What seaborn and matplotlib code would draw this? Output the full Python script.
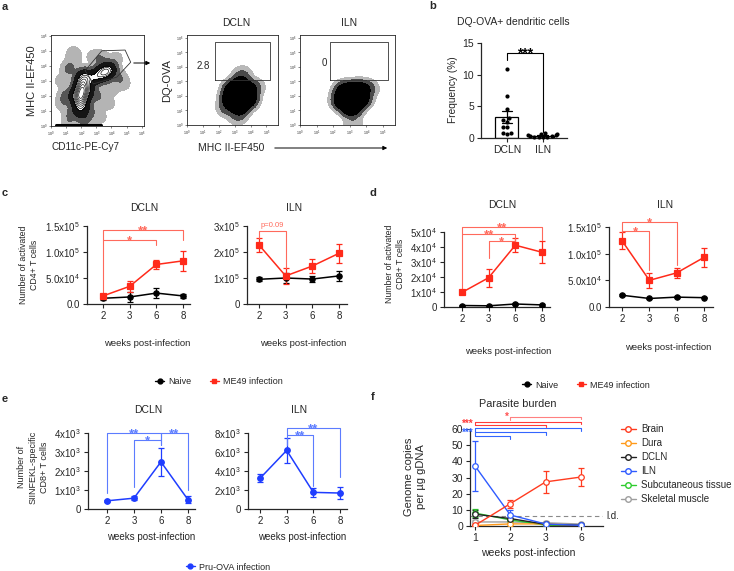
import numpy as np
import pandas as pd
import matplotlib
matplotlib.use("Agg")
import matplotlib.pyplot as plt
import seaborn as sns
from matplotlib.lines import Line2D

# ---------------- data ----------------
# panel a: representative flow events (log10 units) + gates
a1_x = [1.9, 1.95, 2.0, 2.0, 2.05, 2.1, 2.2, 1.7, 2.35, 2.6, 3.0, 3.4, 3.7, 3.9, 1.2, 1.0, 3.0, 4.5, 2.5, 1.5, 3.3, 2.2, 1.3,
        0.8, 0.7, 1.5, 2.8, 4.3, 4.8, 3.8, 3.2, 1.2, 4.0]
a1_y = [1.0, 1.4, 1.8, 2.2, 2.6, 3.0, 3.3, 2.0, 2.4, 3.1, 3.3, 3.5, 3.65, 3.8, 3.8, 2.0, 2.0, 3.2, 1.0, 4.5, 4.5, 0.5, 0.8,
        1.5, 3.0, 4.9, 4.6, 4.5, 2.8, 1.5, 0.6, 0.3, 2.5]
a1_w = [1, 2, 3, 3, 3, 2, 1.5, 1.5, 1.5, 1, 1.5, 2, 2, 1, 0.3, 0.3, 0.3, 0.2, 0.3, 0.15, 0.2, 0.4, 0.2,
        0.15, 0.1, 0.08, 0.1, 0.1, 0.1, 0.1, 0.12, 0.15, 0.15]
a1_floor_x = [0.3, 3.3]
a1_floor_y = [0.07, 0.07]
a1_gate_x = [2.26, 3.36, 4.9, 5.27, 4.35, 2.8, 2.26]
a1_gate_y = [3.68, 5.0, 5.05, 4.24, 3.25, 2.8, 3.68]

a2_x = [3.3, 2.8, 3.8, 3.3, 3.3, 2.9, 3.8, 3.4, 3.5, 2.5, 4.3, 3.2]
a2_y = [1.9, 1.8, 1.8, 1.3, 2.5, 2.4, 2.4, 3.0, 3.5, 1.2, 2.6, 0.6]
a2_w = [3, 2, 2, 2, 2, 1.5, 1.5, 0.6, 0.15, 0.3, 0.2, 0.2]
a2_gate_x = [1.77, 5.2]
a2_gate_y = [3.07, 5.74]
a2_freq = "2.8"

a3_x = [3.1, 2.6, 3.6, 3.1, 3.1, 2.7, 3.6, 4.1, 3.2]
a3_y = [1.75, 1.7, 1.8, 1.2, 2.3, 2.3, 2.4, 2.5, 0.1]
a3_w = [3, 2, 2, 2, 2, 1.5, 1.5, 0.3, 0.15]
a3_gate_x = [1.83, 5.3]
a3_gate_y = [3.07, 5.74]
a3_freq = "0"

# panel b
b_groups = ["DCLN", "ILN"]
b_dcln = [10.9, 6.6, 4.6, 3.1, 2.9, 2.5, 1.8, 1.8, 0.8, 0.8, 0.7]
b_iln = [0.1, 0.2, 0.3, 0.5, 0.8, 0.2, 0.4, 0.7, 0.1, 0.3, 0.6]

weeks = ["2", "3", "6", "8"]

# panel c (activated CD4+)
c_dcln_naive = [1.1e4, 1.35e4, 2.1e4, 1.55e4]
c_dcln_naive_sem = [0.4e4, 1.0e4, 0.9e4, 0.3e4]
c_dcln_me49 = [1.55e4, 3.4e4, 7.6e4, 8.3e4]
c_dcln_me49_sem = [0.3e4, 1.1e4, 0.9e4, 1.9e4]
c_iln_naive = [0.95e5, 1.0e5, 0.96e5, 1.08e5]
c_iln_naive_sem = [0.08e5, 0.2e5, 0.13e5, 0.2e5]
c_iln_me49 = [2.27e5, 1.08e5, 1.46e5, 1.95e5]
c_iln_me49_sem = [0.27e5, 0.3e5, 0.27e5, 0.37e5]

# panel d (activated CD8+)
d_dcln_naive = [0.1e4, 0.08e4, 0.2e4, 0.14e4]
d_dcln_naive_sem = [0.05e4, 0.04e4, 0.06e4, 0.05e4]
d_dcln_me49 = [0.97e4, 1.95e4, 4.12e4, 3.65e4]
d_dcln_me49_sem = [0.08e4, 0.6e4, 0.48e4, 0.72e4]
d_iln_naive = [2.2e4, 1.6e4, 1.85e4, 1.75e4]
d_iln_naive_sem = [0.15e4, 0.1e4, 0.15e4, 0.1e4]
d_iln_me49 = [1.24e5, 0.5e5, 0.64e5, 0.93e5]
d_iln_me49_sem = [0.16e5, 0.14e5, 0.1e5, 0.18e5]

# panel e (SIINFEKL-specific CD8+)
e_dcln = [430, 570, 2480, 490]
e_dcln_sem = [40, 100, 750, 200]
e_iln = [3230, 6170, 1750, 1680]
e_iln_sem = [420, 1300, 480, 650]

# panel f (parasite burden)
f_weeks = ["1", "2", "3", "6"]
f_tissues = ["Brain", "Dura", "DCLN", "ILN", "Subcutaneous tissue", "Skeletal muscle"]
f_brain = [0.4, 13.8, 27.3, 30.3]
f_brain_sem = [0.2, 2.5, 7.0, 5.3]
f_dura = [0.3, 1.3, 1.3, 0.2]
f_dura_sem = [0.1, 0.3, 0.5, 0.1]
f_dcln = [7.3, 4.6, 1.0, 0.5]
f_dcln_sem = [2.5, 2.0, 0.4, 0.2]
f_iln = [37.2, 6.8, 1.2, 0.4]
f_iln_sem = [15.6, 3.0, 0.4, 0.2]
f_subcut = [8.0, 3.8, 0.5, 0.2]
f_subcut_sem = [2.5, 0.8, 0.3, 0.1]
f_skeletal = [2.5, 2.5, 2.0, 1.2]
f_skeletal_sem = [1.5, 1.0, 1.2, 0.5]
f_ld = 6

RED = "#FF2A1A"
RED_LIGHT = "#FF6A5C"
BLUE = "#1F3DFF"
BLUE_LIGHT = "#5C7CFF"
F_COLORS = ["#FF3B1F", "#FF9A1A", "#222222", "#2F5BFF", "#2ECC2E", "#9E9E9E"]

sns.set_style("ticks")
plt.rcParams["font.family"] = ["Liberation Sans", "DejaVu Sans"]
plt.rcParams["mathtext.fontset"] = "custom"
plt.rcParams["mathtext.rm"] = "Liberation Sans"
plt.rcParams["mathtext.it"] = "Liberation Sans:italic"
plt.rcParams["axes.linewidth"] = 0.9

W, H = 734, 571
fig = plt.figure(figsize=(W / 100, H / 100), dpi=100)


def add_ax(l, t, r, b):
    return fig.add_axes([l / W, 1 - b / H, (r - l) / W, (b - t) / H])


def ftext(x, y, s, **kw):
    kw.setdefault("ha", "center")
    kw.setdefault("va", "center")
    fig.text(x / W, 1 - y / H, s, **kw)


def farrow(x0, x1, y):
    fig.add_artist(matplotlib.patches.FancyArrowPatch(
        (x0 / W, 1 - y / H), (x1 / W, 1 - y / H), transform=fig.transFigure,
        arrowstyle="-|>", mutation_scale=6, lw=0.7, color="black"))


def stars(ax, x, y, label, color, fs=9.5, dy=-3.0):
    ax.annotate(label, (x, y), xytext=(0, dy), textcoords="offset points", ha="center",
                va="baseline", color=color, fontsize=fs, fontweight="bold", annotation_clip=False)


def bracket(ax, x1, x2, y, leg1, leg2, label, color, fs=9.5, dy=-3.0):
    ax.plot([x1, x1, x2, x2], [leg1, y, y, leg2], color=color, lw=0.8, clip_on=False)
    if label:
        stars(ax, (x1 + x2) / 2, y, label, color, fs, dy)


# ---------------- panel letters ----------------
for lx, ly, letter in [(5, 7, "a"), (433, 6, "b"), (5, 193, "c"), (373, 193, "d"), (5, 399, "e"), (373, 397, "f")]:
    ftext(lx, ly, letter, fontsize=8, fontweight="bold")


# ---------------- panel a ----------------
def event_density(xs, ys, ws, xmax, ymax, bw):
    gx, gy = np.meshgrid(np.linspace(0, xmax, 220), np.linspace(0, ymax, 220))
    dens = np.zeros_like(gx)
    for x, y, w in zip(xs, ys, ws):
        dens += w * np.exp(-((gx - x) ** 2 + (gy - y) ** 2) / (2 * bw ** 2))
    return gx, gy, dens / dens.max()


def flow_axes(ax, xmax, ymax):
    ax.set_xlim(0, xmax)
    ax.set_ylim(0, ymax)
    ax.set_xticks(range(int(xmax) + 1))
    ax.set_xticklabels([f"$10^{k}$" for k in range(int(xmax) + 1)], fontsize=2.6)
    ax.set_yticks(range(int(ymax) + 1))
    ax.set_yticklabels([f"$10^{k}$" for k in range(int(ymax) + 1)], fontsize=2.6)
    ax.tick_params(length=1.5, width=0.4, pad=1)
    for s in ax.spines.values():
        s.set_linewidth(0.6)


a1 = add_ax(51, 35, 144, 126)
gx, gy, dens = event_density(a1_x, a1_y, a1_w, 6.15, 6.05, 0.3)
a1.contourf(gx, gy, dens, levels=[0.006, 0.03], colors=["#b4b4b4"])
a1.contourf(gx, gy, dens, levels=[0.03, 0.1], colors=["#555555"])
a1.contourf(gx, gy, dens, levels=[0.1, 0.3], colors=["#151515"])
a1.contour(gx, gy, dens, levels=[0.3, 0.4, 0.5, 0.6, 0.7, 0.8, 0.9], colors=["black"], linewidths=0.45)
a1.plot(a1_floor_x, a1_floor_y, color="black", lw=2.2, solid_capstyle="round")
a1.plot(a1_gate_x, a1_gate_y, color="#333333", lw=0.6)
flow_axes(a1, 6.15, 6.05)
ftext(32, 81, "MHC II-EF450", rotation=90, fontsize=8)
ftext(86, 147, "CD11c-PE-Cy7", fontsize=7.2)
farrow(131, 153, 63)

for ax_box, xs, ys, ws, gxs, gys, freq, fpos, title, tx in [
        ((187, 35, 278, 125), a2_x, a2_y, a2_w, a2_gate_x, a2_gate_y, a2_freq, (1.04, 4.07), "DCLN", 236),
        ((300, 35, 395, 125), a3_x, a3_y, a3_w, a3_gate_x, a3_gate_y, a3_freq, (1.46, 4.3), "ILN", 349)]:
    ax = add_ax(*ax_box)
    gx, gy, dens = event_density(xs, ys, ws, 5.73, 6.2, 0.32)
    ax.contourf(gx, gy, dens, levels=[0.006, 0.03], colors=["#b8b8b8"])
    ax.contourf(gx, gy, dens, levels=[0.03, 0.1], colors=["#4a4a4a"])
    ax.contourf(gx, gy, dens, levels=[0.1, 1.01], colors=["black"])
    ax.plot([gxs[0], gxs[1], gxs[1], gxs[0], gxs[0]], [gys[0], gys[0], gys[1], gys[1], gys[0]],
            color="#333333", lw=0.6)
    ax.text(fpos[0], fpos[1], freq, fontsize=7, ha="center", va="center")
    flow_axes(ax, 5.73, 6.2)
    ftext(tx, 23, title, fontsize=7.5)

ftext(167, 81, "DQ-OVA", rotation=90, fontsize=8)
ftext(198, 148, "MHC II-EF450", fontsize=7.5, ha="left")
farrow(272, 390, 148)

# ---------------- panel b ----------------
bax = add_ax(481, 43, 567, 138)
df_b = pd.DataFrame({"group": ["DCLN"] * len(b_dcln) + ["ILN"] * len(b_iln),
                     "freq": b_dcln + b_iln})
sns.barplot(data=df_b, x="group", y="freq", order=b_groups, errorbar="se", color="white",
            edgecolor="black", linewidth=0.9, width=0.64, capsize=0.3,
            err_kws={"color": "black", "linewidth": 0.9}, ax=bax)
sns.swarmplot(data=df_b, x="group", y="freq", order=b_groups, color="black", size=3.0, ax=bax, clip_on=False)
bax.set_xlim(-0.72, 1.67)
bax.set_ylim(0, 15)
bax.set_yticks([0, 5, 10, 15])
bax.set_xlabel("")
bax.set_ylabel("")
bax.tick_params(labelsize=7.5, length=3, width=0.8, pad=2)
sns.despine(ax=bax)
bracket(bax, 0, 1, 13.4, 12.3, 0.95, "***", "black", fs=10)
ftext(513, 22, "DQ-OVA+ dendritic cells", fontsize=7.5)
ftext(453, 90, "Frequency (%)", rotation=90, fontsize=7.3)


# ---------------- time-course helpers ----------------
def draw_series(ax, mean, sem, color, marker, ms=3.8, mfc=None, lw=1.1):
    df = pd.DataFrame({"pos": np.arange(len(mean)), "val": mean})
    ax.errorbar(df["pos"], df["val"], yerr=sem, fmt="none", ecolor=color,
                elinewidth=0.9, capsize=2.2, capthick=0.9, zorder=2)
    sns.lineplot(data=df, x="pos", y="val", color=color, marker=marker, markersize=ms,
                 markeredgecolor=color, markerfacecolor=mfc if mfc else color,
                 markeredgewidth=0.9, lw=lw, errorbar=None, ax=ax, zorder=3)


def style_time(ax, xlim, ylim, yticks, ylabels, xlabels=weeks, fs=7):
    ax.set_xlim(xlim)
    ax.set_ylim(ylim)
    ax.set_xticks(range(len(xlabels)))
    ax.set_xticklabels(xlabels)
    ax.set_yticks(yticks)
    ax.set_yticklabels(ylabels)
    ax.set_xlabel("")
    ax.set_ylabel("")
    ax.tick_params(labelsize=fs, length=3, width=0.8, pad=2)
    sns.despine(ax=ax)


def bottom_legend(labels, colors, markers, cx, cy):
    handles = [Line2D([], [], color=c, marker=m, markersize=3.5, lw=1) for c, m in zip(colors, markers)]
    fig.legend(handles, labels, loc="center", bbox_to_anchor=(cx / W, 1 - cy / H), ncol=len(labels),
               frameon=False, fontsize=6.5, handlelength=1.0, handletextpad=0.5, columnspacing=2.0)


# ---------------- panel c ----------------
c1 = add_ax(87, 226, 190, 304)
draw_series(c1, c_dcln_naive, c_dcln_naive_sem, "black", "o")
draw_series(c1, c_dcln_me49, c_dcln_me49_sem, RED, "s")
style_time(c1, (-0.6, 3.26), (0, 1.5e5), [0, 5e4, 1e5, 1.5e5],
           ["0.0", "5.0x10$^4$", "1.0x10$^5$", "1.5x10$^5$"])
bracket(c1, 0, 3, 1.42e5, 2.2e4, 1.24e5, "**", RED_LIGHT)
bracket(c1, 0, 2, 1.24e5, 1.24e5, 1.14e5, "*", RED_LIGHT)

c2 = add_ax(247, 226, 347, 304)
draw_series(c2, c_iln_naive, c_iln_naive_sem, "black", "o")
draw_series(c2, c_iln_me49, c_iln_me49_sem, RED, "s")
style_time(c2, (-0.45, 3.3), (0, 3e5), [0, 1e5, 2e5, 3e5],
           ["0", "1x10$^5$", "2x10$^5$", "3x10$^5$"])
c2.plot([0, 0, 1, 1], [2.55e5, 2.8e5, 2.8e5, 1.4e5], color=RED_LIGHT, lw=0.8, clip_on=False)
c2.annotate("p=0.09", (0.5, 2.8e5), xytext=(0, 1.5), textcoords="offset points", ha="center",
            va="bottom", color=RED_LIGHT, fontsize=5.5, annotation_clip=False)

ftext(29, 265, "Number of activated\nCD4+ T cells", rotation=90, fontsize=6.3, linespacing=1.35)
ftext(144, 208, "DCLN", fontsize=7.5)
ftext(294, 208, "ILN", fontsize=7.5)
ftext(147, 343, "weeks post-infection", fontsize=6.8)
ftext(303, 343, "weeks post-infection", fontsize=6.8)
bottom_legend(["Naive", "ME49 infection"], ["black", RED], ["o", "s"], 219, 382)

# ---------------- panel d ----------------
d1 = add_ax(444, 232, 550, 307)
draw_series(d1, d_dcln_naive, d_dcln_naive_sem, "black", "o")
draw_series(d1, d_dcln_me49, d_dcln_me49_sem, RED, "s")
style_time(d1, (-0.67, 3.3), (0, 5e4), [0, 1e4, 2e4, 3e4, 4e4, 5e4],
           ["0", "1x10$^4$", "2x10$^4$", "3x10$^4$", "4x10$^4$", "5x10$^4$"])
bracket(d1, 0, 3, 5.33e4, 1.05e4, 4.44e4, "**", RED_LIGHT)
bracket(d1, 0, 2, 4.87e4, 4.87e4, 4.4e4, "**", RED_LIGHT)
bracket(d1, 1, 2, 4.38e4, 3.25e4, 4.38e4, "*", RED_LIGHT)

d2 = add_ax(609, 227, 713, 307)
draw_series(d2, d_iln_naive, d_iln_naive_sem, "black", "o")
draw_series(d2, d_iln_me49, d_iln_me49_sem, RED, "s")
style_time(d2, (-0.48, 3.33), (0, 1.5e5), [0, 5e4, 1e5, 1.5e5],
           ["0.0", "5.0x10$^4$", "1.0x10$^5$", "1.5x10$^5$"])
bracket(d2, 0, 2, 1.59e5, 1.4e5, 0.79e5, "*", RED_LIGHT)
bracket(d2, 0, 1, 1.42e5, 1.42e5, 0.69e5, "*", RED_LIGHT)

ftext(395, 264, "Number of activated\nCD8+ T cells", rotation=90, fontsize=6.3, linespacing=1.35)
ftext(502, 205, "DCLN", fontsize=7.5)
ftext(665, 205, "ILN", fontsize=7.5)
ftext(508, 351, "weeks post-infection", fontsize=6.8)
ftext(668, 347, "weeks post-infection", fontsize=6.8)
bottom_legend(["Naive", "ME49 infection"], ["black", RED], ["o", "s"], 586, 385)

# ---------------- panel e ----------------
e1 = add_ax(88, 433, 195, 509)
draw_series(e1, e_dcln, e_dcln_sem, BLUE, "o", ms=4)
style_time(e1, (-0.7, 3.26), (0, 4e3), [0, 1e3, 2e3, 3e3, 4e3],
           ["0", "1x10$^3$", "2x10$^3$", "3x10$^3$", "4x10$^3$"])
bracket(e1, 0, 2, 4.0e3, 0.83e3, 3.36e3, "**", BLUE_LIGHT)
bracket(e1, 2, 3, 4.0e3, 3.36e3, 1.0e3, "**", BLUE_LIGHT)
bracket(e1, 1, 2, 3.65e3, 1.18e3, 3.65e3, "*", BLUE_LIGHT)

e2 = add_ax(248, 433, 347, 509)
draw_series(e2, e_iln, e_iln_sem, BLUE, "o", ms=4)
style_time(e2, (-0.45, 3.26), (0, 8e3), [0, 2e3, 4e3, 6e3, 8e3],
           ["0", "2x10$^3$", "4x10$^3$", "6x10$^3$", "8x10$^3$"])
bracket(e2, 1, 3, 8.5e3, 6.7e3, 3.4e3, "**", BLUE_LIGHT)
bracket(e2, 1, 2, 7.75e3, 7.75e3, 2.4e3, "**", BLUE_LIGHT)

ftext(33, 467, "Number of\nSIINFEKL-specific\nCD8+ T cells", rotation=90, fontsize=6.5, linespacing=1.3)
ftext(148, 410, "DCLN", fontsize=7.5)
ftext(299, 410, "ILN", fontsize=7.5)
ftext(151, 537, "weeks post-infection", fontsize=7)
ftext(302, 537, "weeks post-infection", fontsize=7)
bottom_legend(["Pru-OVA infection"], [BLUE], ["o"], 228, 567)

# ---------------- panel f ----------------
fax = add_ax(470, 429, 603, 526)
f_series = [(f_skeletal, f_skeletal_sem, 5), (f_subcut, f_subcut_sem, 4), (f_dura, f_dura_sem, 1),
            (f_dcln, f_dcln_sem, 2), (f_iln, f_iln_sem, 3), (f_brain, f_brain_sem, 0)]
for mean, sem, ci in f_series:
    draw_series(fax, mean, sem, F_COLORS[ci], "o", ms=4, mfc="white", lw=1.0)
fax.axhline(f_ld, color="#8a8a8a", lw=0.8, ls=(0, (4, 3)), zorder=1)
fax.text(3.72, f_ld, "l.d.", fontsize=7, ha="left", va="center", clip_on=False)
style_time(fax, (-0.14, 3.62), (0, 60), [0, 10, 20, 30, 40, 50, 60],
           ["0", "10", "20", "30", "40", "50", "60"], xlabels=f_weeks, fs=7.5)
# blue (ILN) comparisons
bracket(fax, 0, 1, 55.5, 55.5, 54.0, "", "#3366FF")
bracket(fax, 0, 2, 58.0, 58.0, 56.5, "", "#3366FF")
bracket(fax, 0, 3, 60.5, 55.5, 59.0, "", "#3366FF")
stars(fax, -0.2, 58.0, "***", "#3366FF", fs=7, dy=-2.4)
# red (brain) comparisons
bracket(fax, 0, 2, 62.5, 62.5, 61.0, "", "#FF3B3B")
bracket(fax, 0, 3, 64.5, 62.5, 63.0, "", "#FF3B3B")
stars(fax, -0.2, 63.5, "***", "#FF3B3B", fs=7, dy=-2.4)
bracket(fax, 1, 3, 67.5, 65.5, 66.0, "", "#FF8080")
stars(fax, 0.9, 67.5, "*", "#FF5050", fs=7, dy=-2.4)

f_handles = [Line2D([], [], color=c, marker="o", markersize=4, markerfacecolor="white", lw=1)
             for c in F_COLORS]
fig.legend(f_handles, f_tissues, loc="upper left", bbox_to_anchor=(621 / W, 1 - 424 / H),
           frameon=False, fontsize=7, handlelength=1.5, handletextpad=0.6, labelspacing=0.42,
           borderpad=0, borderaxespad=0)
ftext(518, 404, "Parasite burden", fontsize=7.8)
ftext(415, 477, "Genome copies\nper µg gDNA", rotation=90, fontsize=8, linespacing=1.15)
ftext(528, 553, "weeks post-infection", fontsize=7.5)

fig.savefig("out.png", dpi=100)
